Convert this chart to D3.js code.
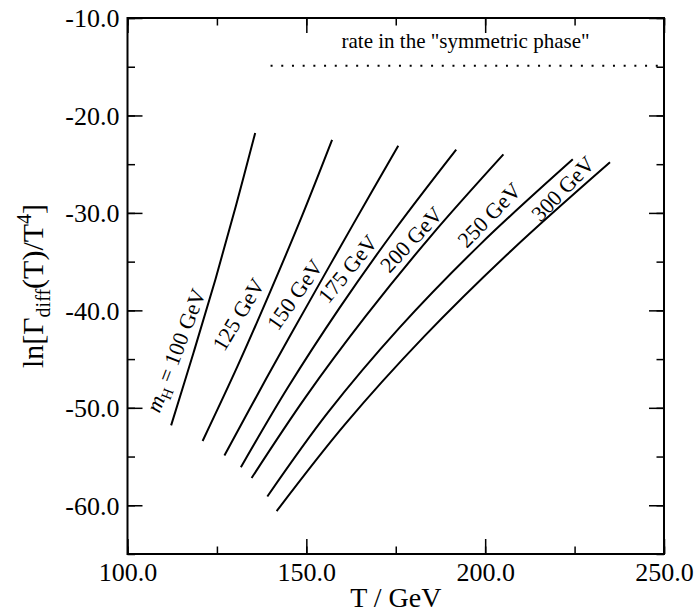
<!DOCTYPE html>
<html>
<head>
<meta charset="utf-8">
<script src="https://cdn.jsdelivr.net/npm/d3@7"></script>
<style>
  body { margin: 0; background: #fff; }
  svg text { font-family: "Liberation Serif", "Times New Roman", serif; fill: #000; }
</style>
</head>
<body>
<svg id="chart" width="697" height="612"></svg>
<script>
// values: T in GeV, ln[Gamma/T^4]
const higgsMasses = [100, 125, 150, 175, 200, 250, 300];

const temps100 = [112.2, 118.5, 124.6, 130.3, 135.7];
const rates100 = [-51.8, -44.3, -36.8, -29.3, -21.8];

const temps125 = [121.0, 130.8, 140.0, 148.8, 157.2];
const rates125 = [-53.4, -45.7, -38.0, -30.3, -22.5];

const temps150 = [127.1, 138.8, 151.0, 163.2, 175.7];
const rates150 = [-54.9, -47.0, -39.0, -31.1, -23.1];

const temps175 = [131.7, 144.7, 159.2, 174.8, 191.9];
const rates175 = [-56.1, -48.0, -39.8, -31.7, -23.5];

const temps200 = [134.7, 149.8, 166.6, 185.0, 205.1];
const rates200 = [-57.2, -48.9, -40.6, -32.3, -24.0];

const temps250 = [139.1, 156.0, 176.0, 198.7, 224.5];
const rates250 = [-59.1, -50.5, -41.8, -33.2, -24.5];

const temps300 = [141.7, 160.8, 182.9, 207.5, 234.9];
const rates300 = [-60.6, -51.7, -42.7, -33.8, -24.8];

// symmetric phase rate (dotted line)
const symTemps = [140, 250];
const symRate = -14.9;

const xTicks = [100, 150, 200, 250];
const yTicks = [-10, -20, -30, -40, -50, -60];

const allTemps = [temps100, temps125, temps150, temps175, temps200, temps250, temps300];
const allRates = [rates100, rates125, rates150, rates175, rates200, rates250, rates300];

// where the curve labels sit (data coords) and their tilt
const labelAt = [
  [114.9, -44.3, -69], [132.3, -40.7, -59], [148.0, -38.7, -55], [162.7, -36.1, -51],
  [180.4, -33.1, -47], [202.2, -30.6, -46], [222.8, -27.9, -46]
];

const W = 697, H = 612;
const mLeft = 127.5, mRight = 664, mTop = 18, mBottom = 554;

const svg = d3.select("#chart");

const x = d3.scaleLinear().domain([100, 250]).range([mLeft, mRight]);
const y = d3.scaleLinear().domain([-65, -10]).range([mBottom, mTop]);

const fmt = d => d.toFixed(1);

// minor ticks first
svg.append("g")
  .attr("transform", `translate(0,${mBottom})`)
  .call(d3.axisBottom(x).tickValues(d3.range(100, 251, 25)).tickSize(-7.5).tickFormat(""));
svg.append("g")
  .attr("transform", `translate(0,${mTop})`)
  .call(d3.axisTop(x).tickValues(d3.range(100, 251, 25)).tickSize(-7.5).tickFormat(""));
svg.append("g")
  .attr("transform", `translate(${mLeft},0)`)
  .call(d3.axisLeft(y).tickValues(d3.range(-65, -9, 5)).tickSize(-7.5).tickFormat(""));
svg.append("g")
  .attr("transform", `translate(${mRight},0)`)
  .call(d3.axisRight(y).tickValues(d3.range(-65, -9, 5)).tickSize(-7.5).tickFormat(""));

// major ticks + labels
const xAxis = svg.append("g")
  .attr("transform", `translate(0,${mBottom})`)
  .call(d3.axisBottom(x).tickValues(xTicks).tickSize(-15).tickPadding(9).tickFormat(fmt));
svg.append("g")
  .attr("transform", `translate(0,${mTop})`)
  .call(d3.axisTop(x).tickValues(xTicks).tickSize(-15).tickFormat(""));
const yAxis = svg.append("g")
  .attr("transform", `translate(${mLeft},0)`)
  .call(d3.axisLeft(y).tickValues(yTicks).tickSize(-15).tickPadding(8).tickFormat(fmt));
svg.append("g")
  .attr("transform", `translate(${mRight},0)`)
  .call(d3.axisRight(y).tickValues(yTicks).tickSize(-15).tickFormat(""));

svg.selectAll(".domain").remove();
svg.selectAll(".tick line").attr("stroke", "#000").attr("stroke-width", 1.5);
xAxis.selectAll("text").style("font-size", "26px").attr("font-family", null);
yAxis.selectAll("text").style("font-size", "26px").attr("font-family", null).attr("dy", "0.34em");

// frame
svg.append("rect")
  .attr("x", mLeft).attr("y", mTop)
  .attr("width", mRight - mLeft).attr("height", mBottom - mTop)
  .attr("fill", "none").attr("stroke", "#000").attr("stroke-width", 2);

// curves
const line = d3.line()
  .x(d => x(d[0]))
  .y(d => y(d[1]))
  .curve(d3.curveCatmullRom.alpha(0.5));

higgsMasses.forEach((m, i) => {
  const pts = allTemps[i].map((t, j) => [t, allRates[i][j]]);
  svg.append("path")
    .datum(pts)
    .attr("d", line)
    .attr("fill", "none")
    .attr("stroke", "#000")
    .attr("stroke-width", 2);
});

// curve labels, nudged a little above their line
higgsMasses.forEach((m, i) => {
  const [lt, lr, ang] = labelAt[i];
  const t = svg.append("text")
    .attr("transform", `translate(${x(lt)},${y(lr)}) rotate(${ang})`)
    .attr("text-anchor", "middle")
    .attr("dy", "0.1em")
    .style("font-size", "22px");
  if (i === 0) {
    t.append("tspan").style("font-style", "italic").text("m");
    t.append("tspan").attr("dy", "5").style("font-size", "15px").text("H");
    t.append("tspan").attr("dy", "-5").text(" = " + m + " GeV");
  } else {
    t.text(m + " GeV");
  }
});

// symmetric phase
svg.append("line")
  .attr("x1", x(symTemps[0])).attr("x2", x(symTemps[1]))
  .attr("y1", y(symRate)).attr("y2", y(symRate))
  .attr("stroke", "#000").attr("stroke-width", 2)
  .attr("stroke-dasharray", "2,8.7");
svg.append("text")
  .attr("x", 341.5).attr("y", 47.5)
  .style("font-size", "21px")
  .text('rate in the "symmetric phase"');

// axis titles
svg.append("text")
  .attr("x", (mLeft + mRight) / 2).attr("y", 607)
  .attr("text-anchor", "middle")
  .style("font-size", "28px")
  .text("T / GeV");

const yt = svg.append("text")
  .attr("transform", `translate(43,${(mTop + mBottom) / 2}) rotate(-90)`)
  .attr("text-anchor", "middle")
  .style("font-size", "30px");
yt.append("tspan").text("ln[Γ");
yt.append("tspan").attr("dy", 7).style("font-size", "20px").text("diff");
yt.append("tspan").attr("dy", -7).text("(T)/T");
yt.append("tspan").attr("dy", -12).style("font-size", "20px").text("4");
yt.append("tspan").attr("dy", 12).text("]");
</script>
</body>
</html>
